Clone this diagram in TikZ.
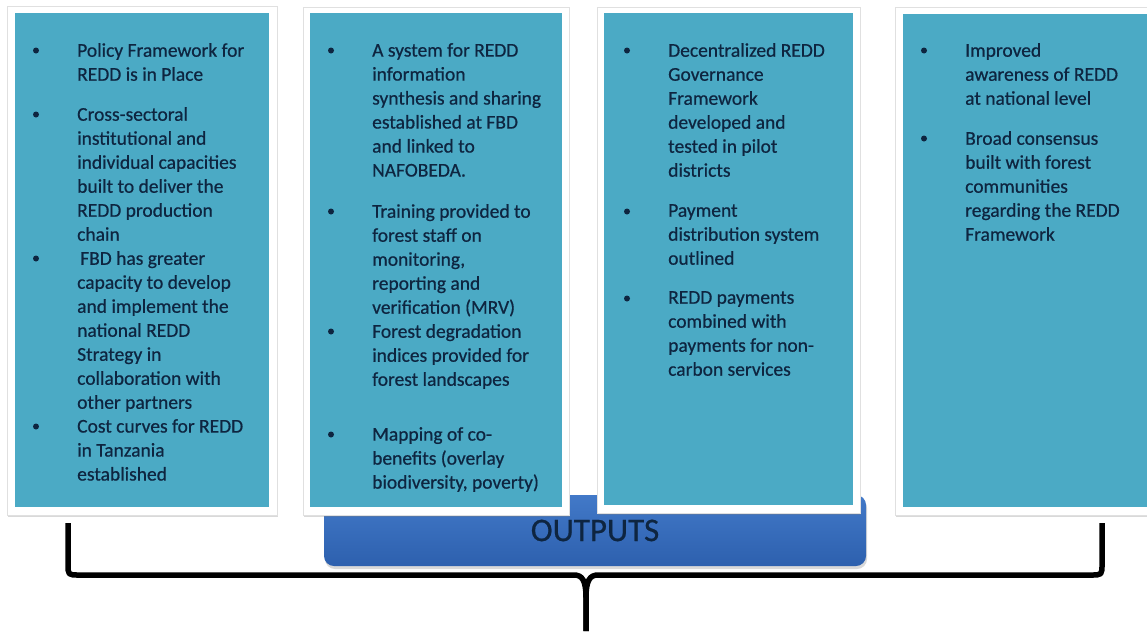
\documentclass[tikz,border=0pt]{standalone}
\usepackage{fontspec}
\setmainfont{Carlito}[FakeBold=0.6]
\usetikzlibrary{shadows}
\definecolor{turquesa}{HTML}{4BAAC5}
\definecolor{azulA}{HTML}{4279C8}
\definecolor{azulB}{HTML}{2D60AE}
\definecolor{tinta}{HTML}{0E2540}

\begin{document}
\begin{tikzpicture}[x=1pt,y=-1pt,
  marco/.style={fill=white, draw=black!12,
    drop shadow={shadow xshift=1pt, shadow yshift=-2pt, opacity=0.3}},
  caja/.style={fill=turquesa},
  item/.style={anchor=north west, align=left, inner sep=0pt, text=tinta,
    font=\fontsize{19.5}{24}\selectfont},
  banda/.style={rounded corners=10pt, top color=azulA, bottom color=azulB,
    minimum width=542pt, minimum height=71pt, text=tinta,
    font=\fontsize{33}{36}\selectfont,
    drop shadow={shadow xshift=1pt, shadow yshift=-3pt, opacity=0.3}},
  llave/.style={line width=5.5pt, line join=round, black}]
  \useasboundingbox (0,0) rectangle (1147,633);

  % Banda de salida
  \node[banda] (salida) at (595,530.5) {OUTPUTS};

  % Cajas
  \draw[marco] (7,6) rectangle (277,515);
  \fill[caja] (15,13) rectangle (269,507);
  \draw[marco] (303,7) rectangle (569,515);
  \fill[caja] (310,13) rectangle (562,507);
  \draw[marco] (597,7) rectangle (860,513);
  \fill[caja] (604,13) rectangle (853,505);
  \draw[marco] (895,7) rectangle (1160,515);
  \fill[caja] (903,14) rectangle (1160,507);

  % Textos de la caja 1
  \node[item] (b1a) at (77,43) {Policy Framework for\\REDD is in Place};
  \node[item] (b1b) at (77,107) {Cross-sectoral\\institutional and\\individual capacities\\built to deliver the\\REDD production\\chain};
  \node[item] (b1c) at (77,251) {\hspace{3pt}FBD has greater\\capacity to develop\\and implement the\\national REDD\\Strategy in\\collaboration with\\other partners};
  \node[item] (b1d) at (77,419) {Cost curves for REDD\\in Tanzania\\established};

  % Textos de la caja 2
  \node[item] (b2a) at (372,43) {A system for REDD\\information\\synthesis and sharing\\established at FBD\\and linked to\\NAFOBEDA.};
  \node[item] (b2b) at (372,204) {Training provided to\\forest staff on\\monitoring,\\reporting and\\verification (MRV)};
  \node[item] (b2c) at (372,324) {Forest degradation\\indices provided for\\forest landscapes};
  \node[item] (b2d) at (372,427) {Mapping of co-\\benefits (overlay\\biodiversity, poverty)};

  % Textos de la caja 3
  \node[item] (b3a) at (668,43) {Decentralized REDD\\Governance\\Framework\\developed and\\tested in pilot\\districts};
  \node[item] (b3b) at (668,204) {Payment\\distribution system\\outlined};
  \node[item] (b3c) at (668,291) {REDD payments\\combined with\\payments for non-\\carbon services};

  % Textos de la caja 4
  \node[item] (b4a) at (965,43) {Improved\\awareness of REDD\\at national level};
  \node[item] (b4b) at (965,131) {Broad consensus\\built with forest\\communities\\regarding the REDD\\Framework};

  % Vinetas
  \foreach \n in {b1a,b1b,b1c,b1d,b2a,b2b,b2c,b2d,b3a,b3b,b3c,b4a,b4b}
    \fill[tinta] ([xshift=-41pt,yshift=-7.5pt]\n.north west) circle (3pt);

  % Llave
  \draw[llave] (68,523) -- (68,564) .. controls (68,575) .. (79,575)
    -- (574,575) .. controls (582,575) and (586,580) .. (586,598) -- (586,631);
  \draw[llave] (1102,523) -- (1102,564) .. controls (1102,575) .. (1091,575)
    -- (598,575) .. controls (590,575) and (586,580) .. (586,598) -- (586,631);
\end{tikzpicture}
\end{document}
